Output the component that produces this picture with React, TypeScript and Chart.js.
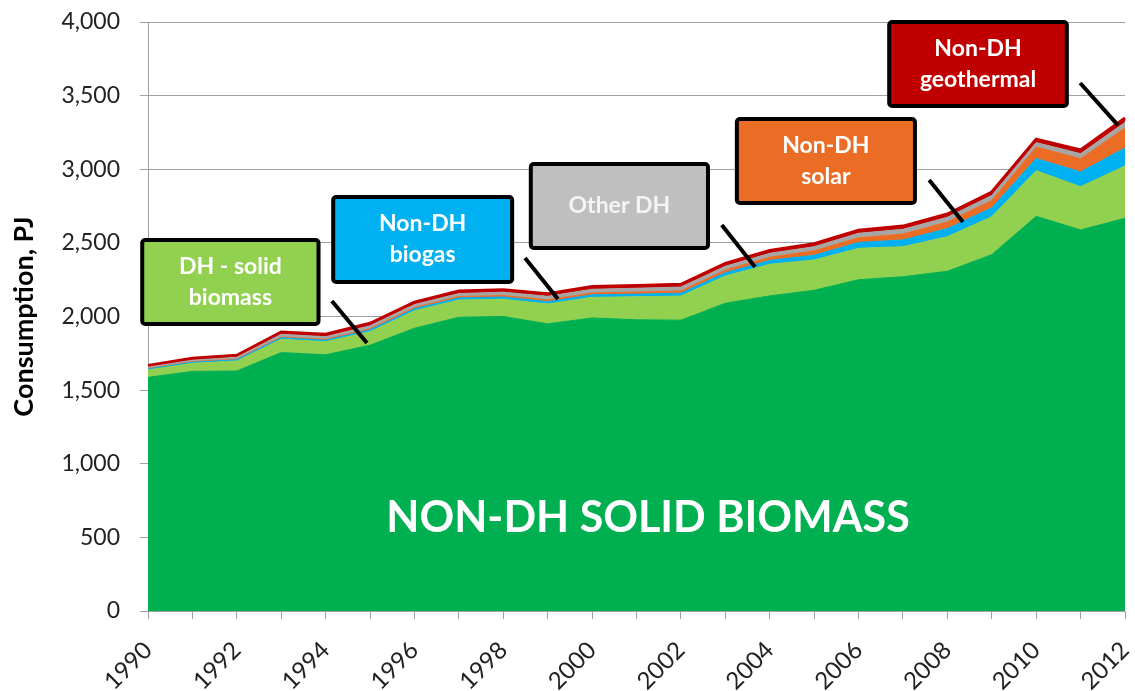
import React, { useEffect, useRef } from 'react';
import { Chart, registerables } from 'chart.js';

Chart.register(...registerables);

const years = ['1990','1991','1992','1993','1994','1995','1996','1997','1998','1999','2000','2001','2002','2003','2004','2005','2006','2007','2008','2009','2010','2011','2012'];
const nonDhSolidBiomass = [1587,1627,1630,1755,1740,1805,1920,1995,2000,1950,1990,1978,1975,2090,2140,2178,2250,2270,2307,2420,2680,2588,2667];
const dhSolidBiomass = [50,55,68,90,89,92,119,117,117,135,140,156,164,185,215,206,213,204,235,258,310,294,355];
const nonDhBiogas = [6,7,8,10,10,12,13,14,15,16,17,18,19,22,26,32,40,46,55,60,83,100,122];
const nonDhSolar = [3,4,5,6,6,8,9,10,11,12,13,14,16,18,22,30,32,40,45,50,78,90,136];
const otherDh = [10,10,12,18,18,20,20,20,22,24,25,26,26,26,26,28,30,32,32,34,30,34,38];
const nonDhGeothermal = [12,13,14,16,16,17,17,17,17,18,18,18,19,19,19,20,21,22,22,23,24,25,30];
const yTicks = [0, 500, 1000, 1500, 2000, 2500, 3000, 3500, 4000];

const COLORS = {
  darkGreen: '#00B050',
  lightGreen: '#92D050',
  blue: '#00B0F0',
  orange: '#EB6D25',
  gray: '#A6A6A6',
  grayBox: '#BFBFBF',
  red: '#C00000',
};

// callout boxes, expressed in data coordinates (x = category index, y = PJ)
const callouts = [
  { lines: ['DH - solid', 'biomass'], fill: COLORS.lightGreen, color: '#FFFFFF', box: [-0.13, 3.84, 2519, 1949], leader: [4.14, 2105, 4.93, 1820] },
  { lines: ['Non-DH', 'biogas'], fill: COLORS.blue, color: '#FFFFFF', box: [4.17, 8.2, 2811, 2234], leader: [8.49, 2397, 9.23, 2119] },
  { lines: ['Other DH'], fill: COLORS.grayBox, color: '#F4F4F4', box: [8.62, 12.61, 3036, 2465], leader: [12.92, 2621, 13.67, 2336] },
  { lines: ['Non-DH', 'solar'], fill: COLORS.orange, color: '#FFFFFF', box: [13.26, 17.27, 3341, 2771], leader: [17.59, 2927, 18.35, 2642] },
  { lines: ['Non-DH', 'geothermal'], fill: COLORS.red, color: '#FFFFFF', box: [16.69, 20.69, 4000, 3429], leader: [20.99, 3586, 21.84, 3300] },
];
const bigLabel = { text: 'NON-DH SOLID BIOMASS', x: 11.26, y: 632 };

const calloutPlugin = {
  id: 'callouts',
  afterDatasetsDraw(chart: any) {
    const { ctx, scales } = chart;
    const xs = scales.x, ys = scales.y;
    ctx.save();
    ctx.fillStyle = '#FFFFFF';
    ctx.font = 'bold 43px Lato';
    ctx.textAlign = 'center';
    ctx.textBaseline = 'middle';
    ctx.fillText(bigLabel.text, xs.getPixelForValue(bigLabel.x), ys.getPixelForValue(bigLabel.y));

    for (const c of callouts) {
      const [lx0, ly0, lx1, ly1] = c.leader;
      ctx.strokeStyle = '#000000';
      ctx.lineWidth = 4;
      ctx.lineCap = 'butt';
      ctx.beginPath();
      ctx.moveTo(xs.getPixelForValue(lx0), ys.getPixelForValue(ly0));
      ctx.lineTo(xs.getPixelForValue(lx1), ys.getPixelForValue(ly1));
      ctx.stroke();

      const [bx0, bx1, by0, by1] = c.box;
      const x0 = xs.getPixelForValue(bx0), x1 = xs.getPixelForValue(bx1);
      const y0 = ys.getPixelForValue(by0), y1 = ys.getPixelForValue(by1);
      ctx.fillStyle = c.fill;
      ctx.beginPath();
      ctx.roundRect(x0, y0, x1 - x0, y1 - y0, 3);
      ctx.fill();
      ctx.lineWidth = 4;
      ctx.strokeStyle = '#000000';
      ctx.stroke();

      ctx.fillStyle = c.color;
      ctx.font = 'bold 23px Lato';
      ctx.textAlign = 'center';
      ctx.textBaseline = 'middle';
      const cx = (x0 + x1) / 2, cy = (y0 + y1) / 2;
      const lh = 31;
      const n = c.lines.length;
      c.lines.forEach((t, i) => {
        ctx.fillText(t, cx, cy + (i - (n - 1) / 2) * lh);
      });
    }
    ctx.restore();
  },
};

export default function App() {
  const ref = useRef<HTMLCanvasElement | null>(null);
  useEffect(() => {
    if (!ref.current) return;
    const layer = (label: string, data: number[], color: string, fill: string | boolean, border = 1, borderColor = color) => ({
      label, data, backgroundColor: color, borderColor, borderWidth: border, fill,
      pointRadius: 0, pointHoverRadius: 0, tension: 0,
    });
    const chart = new Chart(ref.current, {
      type: 'line',
      data: {
        labels: years,
        datasets: [
          layer('Non-DH solid biomass', nonDhSolidBiomass, COLORS.darkGreen, 'origin'),
          layer('DH - solid biomass', dhSolidBiomass, COLORS.lightGreen, '-1'),
          layer('Non-DH biogas', nonDhBiogas, COLORS.blue, '-1'),
          layer('Non-DH solar', nonDhSolar, COLORS.orange, '-1'),
          layer('Other DH', otherDh, COLORS.gray, '-1'),
          layer('Non-DH geothermal', nonDhGeothermal, COLORS.red, '-1', 3),
        ] as any,
      },
      options: {
        responsive: false,
        animation: false,
        events: [],
        layout: { padding: { top: 22, right: 10, left: 0, bottom: 0 } },
        plugins: { legend: { display: false }, tooltip: { enabled: false } },
        scales: {
          x: {
            offset: false,
            grid: { display: true, drawOnChartArea: false, drawTicks: true, tickLength: 8, color: '#A0A0A0' },
            border: { display: true, color: '#A0A0A0', width: 1 },
            ticks: {
              autoSkip: false,
              maxRotation: 45,
              minRotation: 45,
              padding: 17,
              color: '#222222',
              font: { family: 'Lato', size: 24 },
              callback: (_v: any, i: number) => (i % 2 === 0 ? years[i] : ''),
            },
            afterFit: (s: any) => { s.height = 80; s.paddingLeft = 0; s.paddingRight = 0; },
          },
          y: {
            stacked: true,
            min: 0,
            max: 4000,
            afterBuildTicks: (s: any) => { s.ticks = yTicks.map((v) => ({ value: v })); },
            grid: {
              color: '#A0A0A0', lineWidth: 1, borderDash: [7, 5], drawTicks: true, tickLength: 8,
              tickColor: '#A0A0A0', tickBorderDash: [],
            } as any,
            border: { display: true, color: '#A0A0A0', width: 1 },
            ticks: {
              padding: 20,
              color: '#222222',
              font: { family: 'Lato', size: 23 },
              callback: (v: any) => Number(v).toLocaleString('en-US'),
            },
            title: {
              display: true,
              text: 'Consumption, PJ',
              color: '#000000',
              font: { family: 'Lato', size: 27, weight: 'bold' },
              padding: { top: 8, bottom: 0 },
            },
            afterFit: (s: any) => { s.width = 148; s.paddingTop = 0; s.paddingBottom = 0; },
          },
        },
      } as any,
      plugins: [calloutPlugin],
    });
    return () => chart.destroy();
  }, []);
  return (
    <div style={{ position: 'fixed', left: 0, top: 0, width: 1135, height: 691, background: '#fff' }}>
      <canvas ref={ref} width={1135} height={691} style={{ display: 'block' }} />
    </div>
  );
}
